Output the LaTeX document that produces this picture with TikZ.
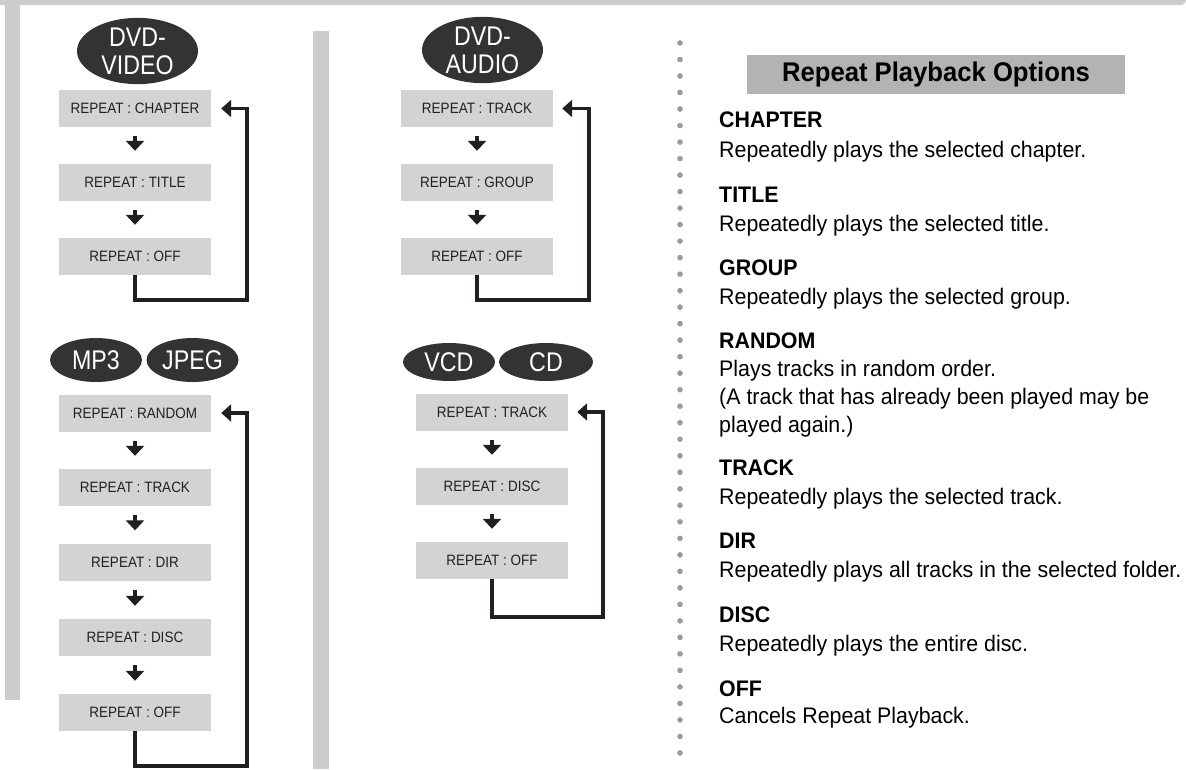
\documentclass[tikz,border=0pt]{standalone}
\usepackage{fontspec}
\setmainfont{Liberation Sans}
\newfontfamily\narrowsans[FakeStretch=0.86]{Liberation Sans}
\newfontfamily\boxsans[FakeStretch=0.9]{Liberation Sans}
\newfontfamily\textsans[FakeStretch=0.95]{Liberation Sans}
\usetikzlibrary{arrows.meta,shapes.geometric}
\definecolor{bargray}{HTML}{CCCCCC}
\definecolor{boxgray}{HTML}{D3D3D3}
\definecolor{ovalfill}{HTML}{333333}
\definecolor{titlegray}{HTML}{B3B3B3}
\definecolor{dotgray}{HTML}{9A9A9A}
\definecolor{ink}{HTML}{231F20}
\begin{document}
\begin{tikzpicture}[x=1pt,y=-1pt,
  modebox/.style={fill=boxgray, minimum width=152pt, minimum height=37pt, inner sep=0pt, text=ink, font=\boxsans\fontsize{15}{16}\selectfont},
  disc/.style={ellipse, fill=ovalfill, text=white, inner sep=0pt, font=\narrowsans\fontsize{27}{28}\selectfont, align=center},
  flow/.style={ink, line width=4.5pt, -{Triangle[width=18pt,length=10pt]}, shorten <=9pt, shorten >=13pt},
  loopline/.style={ink, line width=3.5pt, -{Triangle[width=17pt,length=10pt]}},
  head/.style={anchor=base west, inner sep=0pt, text=black, font=\textsans\fontsize{22.5}{24}\selectfont\bfseries},
  body/.style={anchor=base west, inner sep=0pt, text=black, font=\textsans\fontsize{22.5}{24}\selectfont},
]
\useasboundingbox (0,0) rectangle (1186,769);
\fill[white] (0,0) rectangle (1186,769);
% frame bars
\fill[bargray] (0,0) -- (1186,0) [rounded corners=5pt] -- (1186,5) [sharp corners] -- (0,5) -- cycle;
\fill[bargray] (5,0) rectangle (20,700);
\fill[bargray] (313,31) rectangle (329,769);
% dotted separator
\foreach \i in {0,...,43} \fill[dotgray] (680,{43+16.51*\i}) circle (2.8pt);

% ---- DVD-VIDEO
\node[disc, minimum width=121pt, minimum height=58pt] (dvdv) at (137.5,51) {DVD-\\VIDEO};
\node[modebox] (v1) at (135,108.5) {REPEAT : CHAPTER};
\node[modebox] (v2) at (135,182.5) {REPEAT : TITLE};
\node[modebox] (v3) at (135,256.5) {REPEAT : OFF};
\draw[flow] (v1) -- (v2);
\draw[flow] (v2) -- (v3);
\coordinate (vR) at (247,300);
\draw[loopline] (v3.south) |- (vR) |- ([xshift=10pt]v1.east);

% ---- DVD-AUDIO
\node[disc, minimum width=121pt, minimum height=60pt] (dvda) at (482.5,50) {DVD-\\AUDIO};
\node[modebox] (a1) at (477,108.5) {REPEAT : TRACK};
\node[modebox] (a2) at (477,182.5) {REPEAT : GROUP};
\node[modebox] (a3) at (477,256.5) {REPEAT : OFF};
\draw[flow] (a1) -- (a2);
\draw[flow] (a2) -- (a3);
\coordinate (aR) at (589,300);
\draw[loopline] (a3.south) |- (aR) |- ([xshift=9pt]a1.east);

% ---- MP3 / JPEG
\node[disc, minimum width=92pt, minimum height=44pt] (mp3) at (96,360) {MP3};
\node[disc, minimum width=92pt, minimum height=44pt] (jpeg) at (192.5,360) {JPEG};
\node[modebox] (m1) at (135,413) {REPEAT : RANDOM};
\node[modebox] (m2) at (135,487.5) {REPEAT : TRACK};
\node[modebox] (m3) at (135,562) {REPEAT : DIR};
\node[modebox] (m4) at (135,637.5) {REPEAT : DISC};
\node[modebox] (m5) at (135,712.5) {REPEAT : OFF};
\draw[flow] (m1) -- (m2);
\draw[flow] (m2) -- (m3);
\draw[flow] (m3) -- (m4);
\draw[flow] (m4) -- (m5);
\coordinate (mR) at (247,766);
\draw[loopline] (m5.south) |- (mR) |- ([xshift=10pt]m1.east);

% ---- VCD / CD
\node[disc, minimum width=92pt, minimum height=38pt] (vcd) at (449,362) {VCD};
\node[disc, minimum width=94pt, minimum height=38pt] (cd) at (546,362) {CD};
\node[modebox] (c1) at (492,412) {REPEAT : TRACK};
\node[modebox] (c2) at (492,486.5) {REPEAT : DISC};
\node[modebox] (c3) at (492,560.5) {REPEAT : OFF};
\draw[flow] (c1) -- (c2);
\draw[flow] (c2) -- (c3);
\coordinate (cR) at (603,617);
\draw[loopline] (c3.south) |- (cR) |- ([xshift=9pt]c1.east);

% ---- Options text
\node[fill=titlegray, minimum width=378pt, minimum height=39pt, inner sep=0pt, text=black,
      font=\textsans\fontsize{27}{28}\selectfont\bfseries] (title) at (936,74.5) {Repeat Playback Options};
\node[head] (h1) at (719,127) {CHAPTER};
\node[body] (b1) at (719,157) {Repeatedly plays the selected chapter.};
\node[head] (h2) at (719,202) {TITLE};
\node[body] (b2) at (719,231) {Repeatedly plays the selected title.};
\node[head] (h3) at (719,275) {GROUP};
\node[body] (b3) at (719,304) {Repeatedly plays the selected group.};
\node[head] (h4) at (719,348) {RANDOM};
\node[body] (b4) at (719,376) {Plays tracks in random order.};
\node[body] (b4b) at (719,404) {(A track that has already been played may be};
\node[body] (b4c) at (719,432) {played again.)};
\node[head] (h5) at (719,475) {TRACK};
\node[body] (b5) at (719,504) {Repeatedly plays the selected track.};
\node[head] (h6) at (719,548) {DIR};
\node[body] (b6) at (719,577) {Repeatedly plays all tracks in the selected folder.};
\node[head] (h7) at (719,622) {DISC};
\node[body] (b7) at (719,651) {Repeatedly plays the entire disc.};
\node[head] (h8) at (719,696) {OFF};
\node[body] (b8) at (719,723) {Cancels Repeat Playback.};
\end{tikzpicture}
\end{document}
